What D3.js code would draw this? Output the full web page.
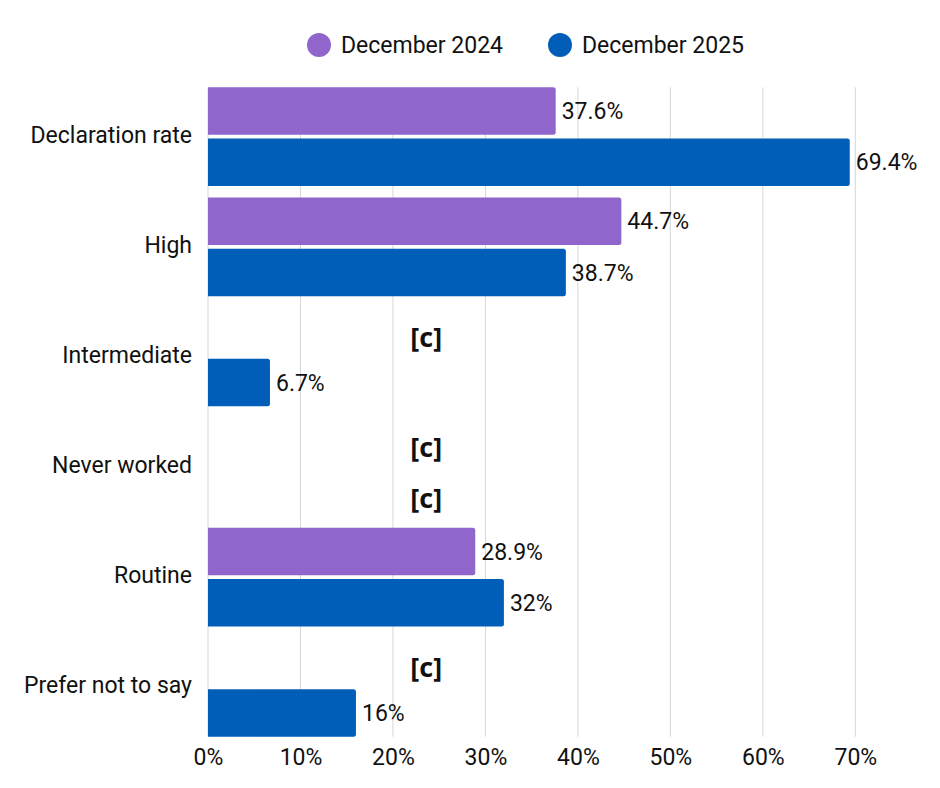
<!DOCTYPE html>
<html>
<head>
<meta charset="utf-8">
<script src="https://cdn.jsdelivr.net/npm/d3@7"></script>
<style>
  body { margin: 0; background: #fff; }
  text { font-family: Roboto, "Noto Sans", sans-serif; fill: #111; }
</style>
</head>
<body>
<svg></svg>
<script>
// data
const categories = ['Declaration rate', 'High', 'Intermediate', 'Never worked', 'Routine', 'Prefer not to say'];
const seriesNames = ['December 2024', 'December 2025'];
const dec2024 = [37.6, 44.7, null, null, 28.9, null];
const dec2025 = [69.4, 38.7, 6.7, null, 32, 16];
const xTicks = [0, 10, 20, 30, 40, 50, 60, 70];
const colors = ['#9166cc', '#005eb8'];
const suppressedText = '[c]';

// configuration of svg/plot area
let config = {
  'svg': {},
  'plot': {}
};

config.svg.width = 940;
config.svg.height = 788;

config.plot.x = 208;
config.plot.y = 87.3;
config.plot.width = 647.3;
config.plot.height = 649.4;
config.fontSize = 23;
config.suppressedAt = 23.6; // where the [c] markers sit on the x axis

let svg = d3.select('body').select('svg');
svg.attr('width', config.svg.width);
svg.attr('height', config.svg.height);

let x = d3.scaleLinear()
  .domain([0, 70])
  .range([config.plot.x, config.plot.x + config.plot.width]);

let y = d3.scaleBand()
  .domain(categories)
  .range([config.plot.y, config.plot.y + config.plot.height])
  .paddingInner(0.103)
  .paddingOuter(0);

let ySub = d3.scaleBand()
  .domain(seriesNames)
  .range([0, y.bandwidth()])
  .paddingInner(0.075);

// gridlines
let grid = svg.append('g').attr('id', 'grid');
grid.selectAll('line')
  .data(xTicks)
  .join('line')
  .attr('x1', d => x(d))
  .attr('x2', d => x(d))
  .attr('y1', config.plot.y)
  .attr('y2', config.plot.y + config.plot.height)
  .attr('stroke', '#d6d6d6')
  .attr('stroke-width', 1);

// x axis tick labels
let xAxis = svg.append('g')
  .attr('transform', 'translate(0,' + (config.plot.y + config.plot.height) + ')')
  .call(d3.axisBottom(x).tickValues(xTicks).tickFormat(d => d + '%').tickSize(0).tickPadding(12));
xAxis.select('.domain').remove();
xAxis.selectAll('text')
  .attr('font-size', config.fontSize)
  .attr('font-family', 'Roboto')
  .attr('fill', '#111');

// category labels
svg.append('g')
  .selectAll('text')
  .data(categories)
  .join('text')
  .attr('x', config.plot.x - 16)
  .attr('y', d => y(d) + y.bandwidth() / 2 - 2)
  .attr('dy', '0.35em')
  .attr('text-anchor', 'end')
  .attr('font-size', config.fontSize)
  .text(d => d);

// bars
let rows = [];
categories.forEach((c, i) => {
  rows.push({ cat: c, series: seriesNames[0], value: dec2024[i], color: colors[0] });
  rows.push({ cat: c, series: seriesNames[1], value: dec2025[i], color: colors[1] });
});

function barPath(d) {
  let x0 = x(0), x1 = x(d.value), y0 = y(d.cat) + ySub(d.series), h = ySub.bandwidth();
  let r = Math.min(2.5, (x1 - x0) / 2);
  return 'M' + x0 + ',' + y0 +
    'H' + (x1 - r) + 'Q' + x1 + ',' + y0 + ' ' + x1 + ',' + (y0 + r) +
    'V' + (y0 + h - r) + 'Q' + x1 + ',' + (y0 + h) + ' ' + (x1 - r) + ',' + (y0 + h) +
    'H' + x0 + 'Z';
}

let shown = rows.filter(d => d.value !== null);
let hidden = rows.filter(d => d.value === null);

svg.append('g').attr('id', 'bars')
  .selectAll('path')
  .data(shown)
  .join('path')
  .attr('d', barPath)
  .attr('fill', d => d.color);

// value labels
svg.append('g')
  .selectAll('text')
  .data(shown)
  .join('text')
  .attr('x', d => x(d.value) + 6)
  .attr('y', d => y(d.cat) + ySub(d.series) + ySub.bandwidth() / 2)
  .attr('dy', '0.35em')
  .attr('font-size', config.fontSize)
  .text(d => d.value + '%');

// suppressed values
svg.append('g')
  .selectAll('text')
  .data(hidden)
  .join('text')
  .attr('x', x(config.suppressedAt))
  .attr('y', d => y(d.cat) + ySub(d.series) + ySub.bandwidth() / 2 + 6)
  .attr('dy', '0.35em')
  .attr('text-anchor', 'middle')
  .attr('font-size', 27)
  .attr('font-weight', 'bold')
  .style('font-family', '"Open Sans", "Noto Sans", sans-serif')
  .text(suppressedText);

// legend
let legendX = [319, 560];
let legend = svg.append('g').attr('id', 'legend')
  .selectAll('g')
  .data(seriesNames)
  .join('g')
  .attr('transform', (d, i) => 'translate(' + legendX[i] + ',45)');
legend.append('circle')
  .attr('r', 12)
  .attr('fill', (d, i) => colors[i]);
legend.append('text')
  .attr('x', 22)
  .attr('dy', '0.35em')
  .attr('font-size', config.fontSize)
  .text(d => d);
</script>
</body>
</html>
